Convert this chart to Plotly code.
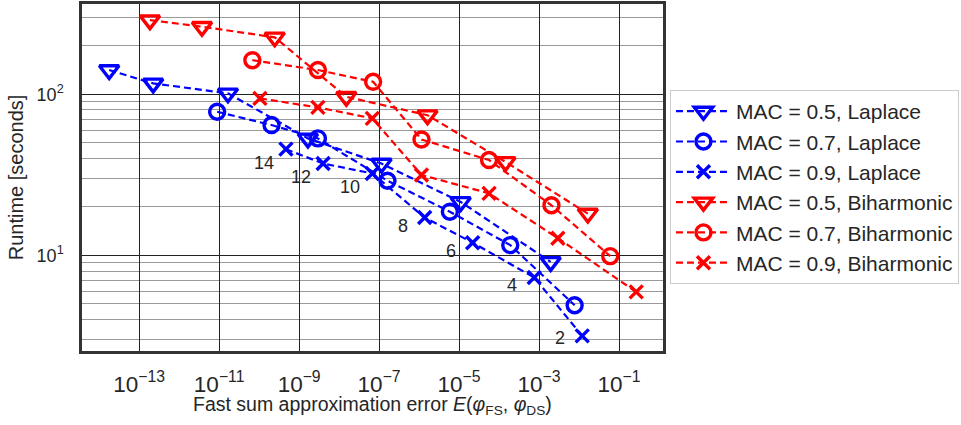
import numpy as np
import plotly.graph_objects as go

# ---- data ----
lap05_err = [10**-13.75, 10**-12.65, 10**-10.78, 10**-8.78, 10**-6.94, 10**-4.96, 10**-2.71]
lap05_time = [141.6, 117.0, 101.5, 53.3, 37.2, 21.5, 9.12]

lap07_err = [10**-11.05, 10**-9.69, 10**-8.53, 10**-6.79, 10**-5.23, 10**-3.72, 10**-2.11]
lap07_time = [78.0, 64.5, 53.3, 29.1, 18.7, 11.6, 4.91]

lap09_err = [10**-9.33, 10**-8.4, 10**-7.17, 10**-5.86, 10**-4.66, 10**-3.12, 10**-1.92]
lap09_time = [45.7, 37.2, 32.3, 17.2, 12.0, 7.30, 3.17]

bih05_err = [10**-12.73, 10**-11.43, 10**-9.61, 10**-7.82, 10**-5.79, 10**-3.84, 10**-1.78]
bih05_time = [289.0, 263.0, 226.0, 96.6, 74.3, 38.1, 18.2]

bih07_err = [10**-10.17, 10**-8.53, 10**-7.15, 10**-5.94, 10**-4.25, 10**-2.69, 10**-1.22]
bih07_time = [163.0, 141.6, 119.7, 52.5, 39.1, 20.5, 9.9]

bih09_err = [10**-9.98, 10**-8.53, 10**-7.17, 10**-5.94, 10**-4.25, 10**-2.53, 10**-0.57]
bih09_time = [94.4, 83.0, 71.0, 31.6, 24.3, 12.8, 5.94]

order_labels = ["14", "12", "10", "8", "6", "4", "2"]

series_names = [
    "MAC = 0.5, Laplace", "MAC = 0.7, Laplace", "MAC = 0.9, Laplace",
    "MAC = 0.5, Biharmonic", "MAC = 0.7, Biharmonic", "MAC = 0.9, Biharmonic",
]

y_tickvals = [10, 100]
y_ticktext = ["10<sup>1</sup>", "10<sup>2</sup>"]

x_title = "Fast sum approximation error <i>E</i>(<i>φ</i><sub>FS</sub>, <i>φ</i><sub>DS</sub>)"
y_title = "Runtime [seconds]"

# ---- styles ----
BLUE = "#0000ff"
RED = "#ff0000"
TXT = "#262626"
FONT = "Liberation Sans, Arial, sans-serif"
label_dy = [14, 13, 14, 8, 8, 8, 2]   # pixel offsets of order labels (style only)

series = [
    (lap05_err, lap05_time, BLUE, "triangle-down-open", 17),
    (lap07_err, lap07_time, BLUE, "circle-open", 15),
    (lap09_err, lap09_time, BLUE, "x-thin-open", 13),
    (bih05_err, bih05_time, RED, "triangle-down-open", 17),
    (bih07_err, bih07_time, RED, "circle-open", 15),
    (bih09_err, bih09_time, RED, "x-thin-open", 13),
]

fig = go.Figure()
for name, (xs, ys, col, sym, sz) in zip(series_names, series):
    fig.add_trace(go.Scatter(
        x=xs, y=ys, name=name, mode="lines+markers",
        line=dict(color=col, width=2.2, dash="7px,4px"),
        marker=dict(symbol=sym, size=sz, color=col,
                    line=dict(color=col, width=3.4)),
    ))

for lab, xv, yv, dy in zip(order_labels, lap09_err, lap09_time, label_dy):
    fig.add_annotation(
        x=np.log10(xv), y=np.log10(yv), xref="x", yref="y",
        text=lab, showarrow=False, xshift=-22, yshift=-dy,
        font=dict(family=FONT, size=18, color=TXT),
    )

# x-axis title placed as a paper annotation to match the reference spacing
fig.add_annotation(
    x=0.5, y=-0.156, xref="paper", yref="paper", xanchor="center", yanchor="middle",
    text=x_title, showarrow=False,
    font=dict(family=FONT, size=19.5, color=TXT),
)

minor_y = [m * 10**d for d in range(0, 3) for m in range(2, 10)]

fig.update_layout(
    width=961, height=425,
    margin=dict(l=82, r=298, t=4, b=74, autoexpand=False),
    paper_bgcolor="white", plot_bgcolor="white",
    font=dict(family=FONT, color=TXT, size=17),
    showlegend=True,
    legend=dict(
        x=1.012, y=0.752, xanchor="left", yanchor="top",
        bgcolor="white", bordercolor="#cccccc", borderwidth=1,
        font=dict(family=FONT, size=21, color=TXT),
        itemwidth=55, tracegroupgap=0,
    ),
)

fig.update_xaxes(
    type="log", range=[-14.43, 0.1],
    tick0=1, dtick=2, exponentformat="power", showexponent="all",
    showgrid=True, gridcolor="#222222", gridwidth=1,
    showline=True, mirror=True, linecolor="#333333", linewidth=2.5,
    ticks="", ticklabelstandoff=12, zeroline=False,
    tickfont=dict(family=FONT, size=18, color=TXT),
)

fig.update_yaxes(
    type="log", range=[0.407, 2.561],
    tickvals=y_tickvals, ticktext=y_ticktext,
    showgrid=True, gridcolor="#222222", gridwidth=1,
    minor=dict(tickvals=minor_y, showgrid=True, gridcolor="#9a9a9a", gridwidth=1, ticks=""),
    showline=True, mirror=True, linecolor="#333333", linewidth=2.5,
    ticks="", ticklabelstandoff=12, zeroline=False,
    tickfont=dict(family=FONT, size=18, color=TXT),
    title=dict(text=y_title, font=dict(family=FONT, size=20, color=TXT), standoff=8),
)

fig.write_html("out.html")
